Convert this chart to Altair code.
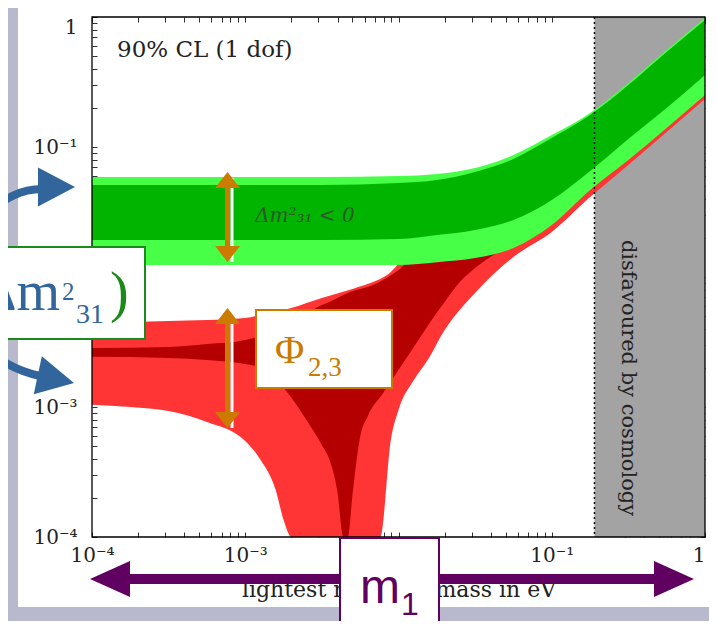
import altair as alt
import pandas as pd

# ---------------- values ----------------
# normal hierarchy (red), outer region: lightest mass (eV), upper and lower |m_ee| (eV)
nh_m = [1e-4, 1.78e-4, 3.16e-4, 5.62e-4, 1e-3, 1.26e-3, 1.58e-3, 1.78e-3, 2.0e-3, 3.16e-3,
        5.01e-3, 7.08e-3, 7.59e-3, 8.91e-3, 0.01, 0.0126, 0.0158, 0.02, 0.0251, 0.0316,
        0.0398, 0.0562, 0.1, 0.178, 0.316, 0.562, 1.0]
nh_hi = [0.00451, 0.00451, 0.00459, 0.00467, 0.00484, 0.00510, 0.00538, 0.00557, 0.00578, 0.00690,
         0.00809, 0.00931, 0.00966, 0.01093, 0.01259, 0.01426, 0.01452, 0.0148, 0.0153, 0.01614,
         0.01701, 0.0193, 0.0290, 0.0538, 0.0916, 0.1614, 0.2897]
nh_lo = [0.00104, 0.00100, 0.000931, 0.000767, 0.000548, 0.000391, 0.000230, 0.000135, 0.0001, 0.0001,
         0.0001, 0.0001, 0.0001, 0.000557, 0.000948, 0.00161, 0.00238, 0.00391, 0.00557, 0.00754,
         0.0100, 0.01426, 0.0222, 0.0412, 0.0727, 0.1303, 0.234]

# normal hierarchy, dark inner region
nhd_m = [1e-4, 3.16e-4, 5.62e-4, 1e-3, 1.26e-3, 1.78e-3, 2.51e-3, 3.16e-3, 3.55e-3, 3.98e-3,
         4.37e-3, 4.68e-3, 5.01e-3, 5.62e-3, 6.31e-3, 7.94e-3, 0.01, 0.0126, 0.0158, 0.02,
         0.0251, 0.0316, 0.0398, 0.0447]
nhd_hi = [0.00284, 0.00289, 0.00305, 0.00328, 0.00352, 0.00451, 0.00528, 0.00609, 0.00643, 0.00690,
          0.00727, 0.00754, 0.00781, 0.00809, 0.00838, 0.00948, 0.01132, 0.0140, 0.01452, 0.01503,
          0.0156, 0.01614, 0.0167, 0.0156]
nhd_lo = [0.00243, 0.00238, 0.00230, 0.00214, 0.00200, 0.00140, 0.000794, 0.000510, 0.000391, 0.000230,
          0.0001, 0.0001, 0.000210, 0.000588, 0.000853, 0.00128, 0.00193, 0.00289, 0.00435, 0.00643,
          0.00915, 0.01173, 0.01426, 0.0156]

# inverted hierarchy (green): outer (light) and inner (dark) regions
ih_m = [1e-4, 3.16e-4, 1e-3, 3.16e-3, 0.01, 0.0178, 0.0316, 0.0562, 0.1, 0.178, 0.316, 0.562, 1.0]
ih_hi = [0.0588, 0.0588, 0.0588, 0.0588, 0.0598, 0.0620, 0.0689, 0.0868, 0.1236, 0.1827, 0.311, 0.557, 0.982]
ih_lo = [0.01237, 0.01237, 0.01237, 0.01237, 0.01237, 0.0130, 0.0140, 0.0167, 0.0251, 0.0467, 0.0794, 0.140, 0.251]
ihd_hi = [0.0510, 0.0510, 0.0510, 0.0510, 0.0528, 0.0557, 0.0643, 0.0809, 0.1173, 0.1762, 0.300, 0.538, 0.948]
ihd_lo = [0.0193, 0.0193, 0.0193, 0.0193, 0.0196, 0.0210, 0.0230, 0.0274, 0.0391, 0.0654, 0.1153, 0.1995, 0.358]

# region disfavoured by cosmology
cosmo_from = [0.19]
cosmo_to = [1.0]

# axis ticks
major_vals = [1e-4, 1e-3, 1e-2, 1e-1, 1.0]
major_text = ["10⁻⁴", "10⁻³", "10⁻²", "10⁻¹", "1"]
minor_vals = [k * 10.0 ** n for n in range(-4, 0) for k in range(1, 10)] + [1.0]

# ---------------- styles ----------------
LAV = "#b9b9cd"
RED_L = "#ff3535"
RED_D = "#b40000"
GRN_L = "#48ff48"
GRN_D = "#00b400"
GRAY = "#a3a3a3"
BLUE = "#31659c"
ORANGE = "#cc7a00"
PURPLE = "#600060"
SIGN_GREEN = "#1a8a1a"
SERIF = "DejaVu Serif"
TIMES = "Liberation Serif"
SANS = "Liberation Sans"

W, H = 613, 520
XS = alt.Scale(type="log", domain=[1e-4, 1], nice=False)
YS = alt.Scale(type="log", domain=[1e-4, 1], nice=False)

label_expr = ("datum.value < 0.0005 ? '%s' : datum.value < 0.005 ? '%s' : "
              "datum.value < 0.05 ? '%s' : datum.value < 0.5 ? '%s' : '%s'") % tuple(major_text)

x_main = alt.Axis(orient="bottom", values=major_vals, labelExpr=label_expr, ticks=False, tickSize=0,
                  domain=False, grid=False, labelFont=SERIF, labelFontSize=20, labelColor="#222",
                  labelPadding=8, labelFlush=False,
                  labelAlign={"condition": {"test": "datum.value > 0.5", "value": "right"}, "value": "center"},
                  title="lightest neutrino mass in eV",
                  titleFont=SERIF, titleFontSize=22, titleFontWeight="normal", titleColor="#222",
                  titlePadding=14)
y_main = alt.Axis(orient="left", values=major_vals, labelExpr=label_expr, ticks=False, tickSize=0,
                  domain=False, grid=False, labelFont=SERIF, labelFontSize=20, labelColor="#222",
                  labelPadding=15, labelFlush=False,
                  labelBaseline={"condition": {"test": "datum.value > 0.5", "value": "top"}, "value": "middle"},
                  title="")


def tick_axis(orient, offset):
    return alt.Axis(orient=orient, offset=offset, values=minor_vals, labels=False, ticks=True,
                    tickSize=5, tickColor="#333", tickWidth=1, domain=False, grid=False, title="")


def band(m, hi, lo, color, ax_x, ax_y):
    df = pd.DataFrame({"m": m, "hi": hi, "lo": lo})
    return alt.Chart(df).mark_area(color=color, interpolate="monotone", opacity=1).encode(
        x=alt.X("m:Q", scale=XS, axis=ax_x),
        y=alt.Y("hi:Q", scale=YS, axis=ax_y),
        y2=alt.Y2("lo:Q"),
    )


one = pd.DataFrame({"k": [0]})


def prect(x, x2, y, y2, **kw):
    return alt.Chart(one).mark_rect(**kw).encode(
        x=alt.value(x), x2=alt.value(x2), y=alt.value(y), y2=alt.value(y2))


def ptext(s, x, y, **kw):
    return alt.Chart(one).mark_text(text=s, **kw).encode(x=alt.value(x), y=alt.value(y))


def prule(x, y, x2, y2, color, w):
    return alt.Chart(one).mark_rule(color=color, strokeWidth=w).encode(
        x=alt.value(x), y=alt.value(y), x2=alt.value(x2), y2=alt.value(y2))


HEAD = "M 1 0 L -1 -1.05 L -1 1.05 Z"
HEAD_WIDE = "M 1 0 L -1 -0.9 L -1 0.9 Z"
HEAD_SMALL = "M 0.64 0 L -0.64 -1 L -0.64 1 Z"


def head(x, y, angle, size, color, shape):
    return alt.Chart(one).mark_point(shape=shape, filled=True, size=size, angle=angle, color=color,
                                     opacity=1, strokeWidth=0).encode(x=alt.value(x), y=alt.value(y))


def arc(cx, cy, r, t1, t2, color):
    return alt.Chart(one).mark_arc(radius=r + 4, radius2=r - 4, theta=t1, theta2=t2, color=color).encode(
        x=alt.value(cx), y=alt.value(cy))


layers = []
# slide background strips
layers.append(prect(-84, -74, -9, 604, color=LAV))
layers.append(prect(-84, 617, 590, 604, color=LAV))

# cosmology band
cosmo_df = pd.DataFrame({"m0": cosmo_from, "m1": cosmo_to, "y0": [1e-4], "y1": [1.0]})
layers.append(alt.Chart(cosmo_df).mark_rect(color=GRAY).encode(
    x=alt.X("m0:Q", scale=XS, axis=None), x2="m1:Q",
    y=alt.Y("y0:Q", scale=YS, axis=None), y2="y1:Q"))

# hierarchies
layers.append(band(nh_m, nh_hi, nh_lo, RED_L, x_main, y_main))
layers.append(band(nhd_m, nhd_hi, nhd_lo, RED_D, tick_axis("top", -H), tick_axis("right", -W)))
layers.append(band(ih_m, ih_hi, ih_lo, GRN_L, tick_axis("bottom", -H), tick_axis("left", -W)))
layers.append(band(ih_m, ihd_hi, ihd_lo, GRN_D, None, None))

# dotted cosmology edge
layers.append(alt.Chart(pd.DataFrame({"m0": cosmo_from})).mark_rule(
    color="#111", strokeDash=[2, 3], strokeWidth=1.5).encode(x=alt.X("m0:Q", scale=XS, axis=None)))

# frame
layers.append(prect(0, W, 0, H, fillOpacity=0, stroke="black", strokeWidth=1.3))

# texts in the plot
layers.append(ptext("90% CL (1 dof)", 25, 40, font=SERIF, fontSize=23, color="#222", align="left",
                    baseline="alphabetic"))
layers.append(ptext("Δm²₃₁  <  0", 163, 199, font=SERIF, fontSize=20, color="#2a5a2a", align="left",
                    baseline="middle", fontStyle="italic"))
layers.append(ptext("disfavoured by cosmology", 536, 361, font=SERIF, fontSize=21, color="#222",
                    angle=90, align="center", baseline="middle"))

# blue curved arrows
layers.append(arc(-50, 238.6, 66.6, 5.388, 6.283, BLUE))
layers.append(head(-35.5, 170, 0, 1369, BLUE, HEAD))
layers.append(arc(-27.5, 243.9, 117.7, 3.351, 3.827, BLUE))
layers.append(head(-36.1, 362.2, 12, 1369, BLUE, HEAD))

# sign(Δm²31) box
layers.append(prect(-110, 53, 230, 322, color="white", stroke=SIGN_GREEN, strokeWidth=2))
layers.append(ptext("Δm", -32, 293, font=TIMES, fontSize=56, color=BLUE, align="right", baseline="alphabetic"))
layers.append(ptext("2", -30, 283, font=TIMES, fontSize=25, color=BLUE, align="left", baseline="alphabetic"))
layers.append(ptext("31", -16, 306, font=TIMES, fontSize=28, color=BLUE, align="left", baseline="alphabetic"))
layers.append(ptext(")", 18, 294, font=TIMES, fontSize=56, color=SIGN_GREEN, align="left", baseline="alphabetic"))

# orange double arrows
for top, bot in [(155, 245), (291, 411)]:
    layers.append(prule(140, top + 6, 140, bot, "white", 3))
    layers.append(prule(135.5, top + 8, 135.5, bot - 8, ORANGE, 5))
    layers.append(head(135.5, top + 8, 270, 625, ORANGE, HEAD_SMALL))
    layers.append(head(135.5, bot - 8, 90, 625, ORANGE, HEAD_SMALL))

# Φ box
layers.append(prect(164, 300, 293, 371, color="white", stroke=ORANGE, strokeWidth=2))
layers.append(ptext("Φ", 183, 346, font=TIMES, fontSize=40, color=ORANGE, align="left", baseline="alphabetic"))
layers.append(ptext("2,3", 216, 359, font=TIMES, fontSize=27, color=ORANGE, align="left", baseline="alphabetic"))

# purple m1 arrow and box
layers.append(prule(30, 562, 572, 562, PURPLE, 10))
layers.append(head(18, 562, 180, 1600, PURPLE, HEAD_WIDE))
layers.append(head(582, 562, 0, 1600, PURPLE, HEAD_WIDE))
layers.append(prect(248, 347, 521, 640, color="white", stroke=PURPLE, strokeWidth=2))
layers.append(ptext("m", 268, 586, font=SANS, fontSize=48, color=PURPLE, align="left", baseline="alphabetic"))
layers.append(ptext("1", 309, 598, font=SANS, fontSize=32, color=PURPLE, align="left", baseline="alphabetic"))

chart = alt.layer(*layers).resolve_axis(x="independent", y="independent").properties(
    width=W, height=H,
    padding={"left": 84, "top": 9, "right": 4, "bottom": 84},
    autosize=alt.AutoSizeParams(type="none"),
    background="white",
).configure_view(strokeWidth=0)

chart.save("out.html", embed_options={"renderer": "svg", "actions": False})
